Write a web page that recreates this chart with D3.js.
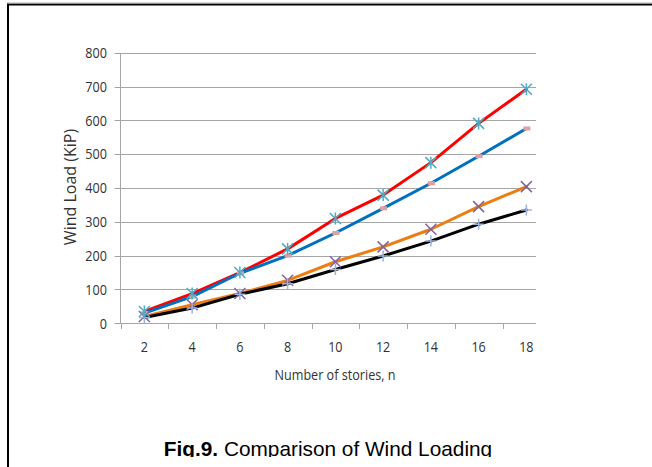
<!DOCTYPE html>
<html><head><meta charset="utf-8">
<script src="https://cdn.jsdelivr.net/npm/d3@7/dist/d3.min.js"></script>
<style>body{margin:0;background:#fff}svg{display:block}</style>
</head><body>
<svg id="c" width="652" height="467"></svg>
<script>
const stories = [2, 4, 6, 8, 10, 12, 14, 16, 18];
const seriesRed = [35, 88, 150, 220, 310, 379, 475, 591, 692];
const seriesBlue = [30, 79, 148, 200, 267, 340, 414, 494, 576];
const seriesOrange = [20, 55, 88, 127, 182, 226, 278, 345, 404];
const seriesBlack = [17, 45, 86, 117, 159, 199, 243, 293, 335];
const yTicks = [0, 100, 200, 300, 400, 500, 600, 700, 800];
const yTitle = "Wind Load (KiP)";
const xTitle = "Number of stories, n";
const captionBold = "Fig.9.";
const captionRest = " Comparison of Wind Loading";

(function () {
const svg = d3.select("#c");
const pL = 120.5, pT = 52.7, pB = 323.3, pR = 536;
const band = 47.75;
const x = d3.scaleBand().domain(stories).range([pL, pL + band * stories.length]);
const y = d3.scaleLinear().domain([0, 800]).range([pB, pT]);
const cx = d => x(d) + x.bandwidth() / 2;
const numFont = "'Open Sans',sans-serif";
const sx = 0.87;

// frame (top and left border)
svg.append("line").attr("x1", 7).attr("x2", 652).attr("y1", 4.5).attr("y2", 4.5).attr("stroke", "#000").attr("stroke-width", 2);
svg.append("line").attr("x1", 8).attr("x2", 8).attr("y1", 3.5).attr("y2", 467).attr("stroke", "#000").attr("stroke-width", 2);
svg.append("line").attr("x1", 7).attr("x2", 652).attr("y1", 3).attr("y2", 3).attr("stroke", "#aaa").attr("stroke-width", 1);

// gridlines
svg.append("g").selectAll("line").data(yTicks).join("line")
  .attr("x1", pL - 6).attr("x2", pR)
  .attr("y1", d => Math.round(y(d)) + 0.5).attr("y2", d => Math.round(y(d)) + 0.5)
  .attr("stroke", "#a6a6a6").attr("stroke-width", 1);

// y axis line
svg.append("line").attr("x1", pL).attr("x2", pL).attr("y1", Math.round(pT)).attr("y2", Math.round(pB) + 0.5)
  .attr("stroke", "#a6a6a6");

// x tick marks
const xTickPos = stories.map(s => x(s)).filter(p => p < pR);
svg.append("g").selectAll("line").data(xTickPos).join("line")
  .attr("x1", d => Math.round(d) + 0.5).attr("x2", d => Math.round(d) + 0.5)
  .attr("y1", Math.round(pB)).attr("y2", Math.round(pB) + 6)
  .attr("stroke", "#a6a6a6");

// y tick labels
svg.append("g").selectAll("text").data(yTicks).join("text")
  .attr("transform", d => `translate(107,${y(d)}) scale(${sx},1)`).attr("dy", "0.36em")
  .attr("text-anchor", "end").attr("font-family", numFont).attr("font-size", 14.5)
  .attr("fill", "#333").text(d => d);

// x tick labels
svg.append("g").selectAll("text").data(stories).join("text")
  .attr("transform", d => `translate(${cx(d)},347) scale(${sx},1)`).attr("dy", "0.36em")
  .attr("text-anchor", "middle").attr("font-family", numFont).attr("font-size", 14.5)
  .attr("fill", "#333").text(d => d);

// axis titles
svg.append("text").attr("transform", "translate(76,187) rotate(-90)")
  .attr("text-anchor", "middle").attr("font-family", numFont).attr("font-size", 16)
  .attr("fill", "#333").text(yTitle);
svg.append("text").attr("transform", `translate(335,375) scale(${sx},1)`).attr("dy", "0.36em")
  .attr("text-anchor", "middle").attr("font-family", numFont).attr("font-size", 14.5)
  .attr("fill", "#333").text(xTitle);

// lines
const lineGen = d3.line().x((d, i) => cx(stories[i])).y(d => y(d));
const lines = [
  {v: seriesRed, c: "#ff0000"},
  {v: seriesBlue, c: "#0070c0"},
  {v: seriesOrange, c: "#ed7d11"},
  {v: seriesBlack, c: "#000000"}
];
svg.append("g").selectAll("path").data(lines).join("path")
  .attr("d", d => lineGen(d.v)).attr("fill", "none").attr("stroke", d => d.c)
  .attr("stroke-width", 3).attr("stroke-linejoin", "round").attr("stroke-linecap", "round");

// markers
const mk = svg.append("g");
mk.selectAll("rect.sq").data(seriesBlue).join("rect")
  .attr("x", (d, i) => cx(stories[i]) - 3).attr("y", d => y(d) - 2)
  .attr("width", 7).attr("height", 4).attr("fill", "#e0a0a0");
mk.selectAll("path.x").data(seriesOrange).join("path")
  .attr("d", (d, i) => { const px = cx(stories[i]), py = y(d), r = 5.5;
    return `M${px - r},${py - r}L${px + r},${py + r}M${px - r},${py + r}L${px + r},${py - r}`; })
  .attr("stroke", "#8064a2").attr("stroke-width", 1.5).attr("fill", "none");
mk.selectAll("path.p").data(seriesBlack).join("path")
  .attr("d", (d, i) => { const px = cx(stories[i]), py = y(d), r = 5.5;
    return `M${px - r},${py}L${px + r},${py}M${px},${py - r}L${px},${py + r}`; })
  .attr("stroke", "#9db3dd").attr("stroke-width", 1.5).attr("fill", "none");
mk.selectAll("path.a").data(seriesRed).join("path")
  .attr("d", (d, i) => { const px = cx(stories[i]), py = y(d), r = 5.5;
    return `M${px - r},${py - r}L${px + r},${py + r}M${px - r},${py + r}L${px + r},${py - r}M${px},${py - r - 0.5}L${px},${py + r + 0.5}`; })
  .attr("stroke", "#4bacc6").attr("stroke-width", 1.5).attr("fill", "none");

// caption
const cap = svg.append("text").attr("x", 328).attr("y", 455.5).attr("text-anchor", "middle")
  .attr("font-family", "'Liberation Sans',Arial,sans-serif").attr("font-size", 20.8).attr("fill", "#000");
cap.append("tspan").attr("font-weight", "bold").text(captionBold);
cap.append("tspan").text(captionRest);
svg.append("rect").attr("x", 10).attr("y", 457).attr("width", 642).attr("height", 10).attr("fill", "#fff");
})();
</script>
</body></html>
